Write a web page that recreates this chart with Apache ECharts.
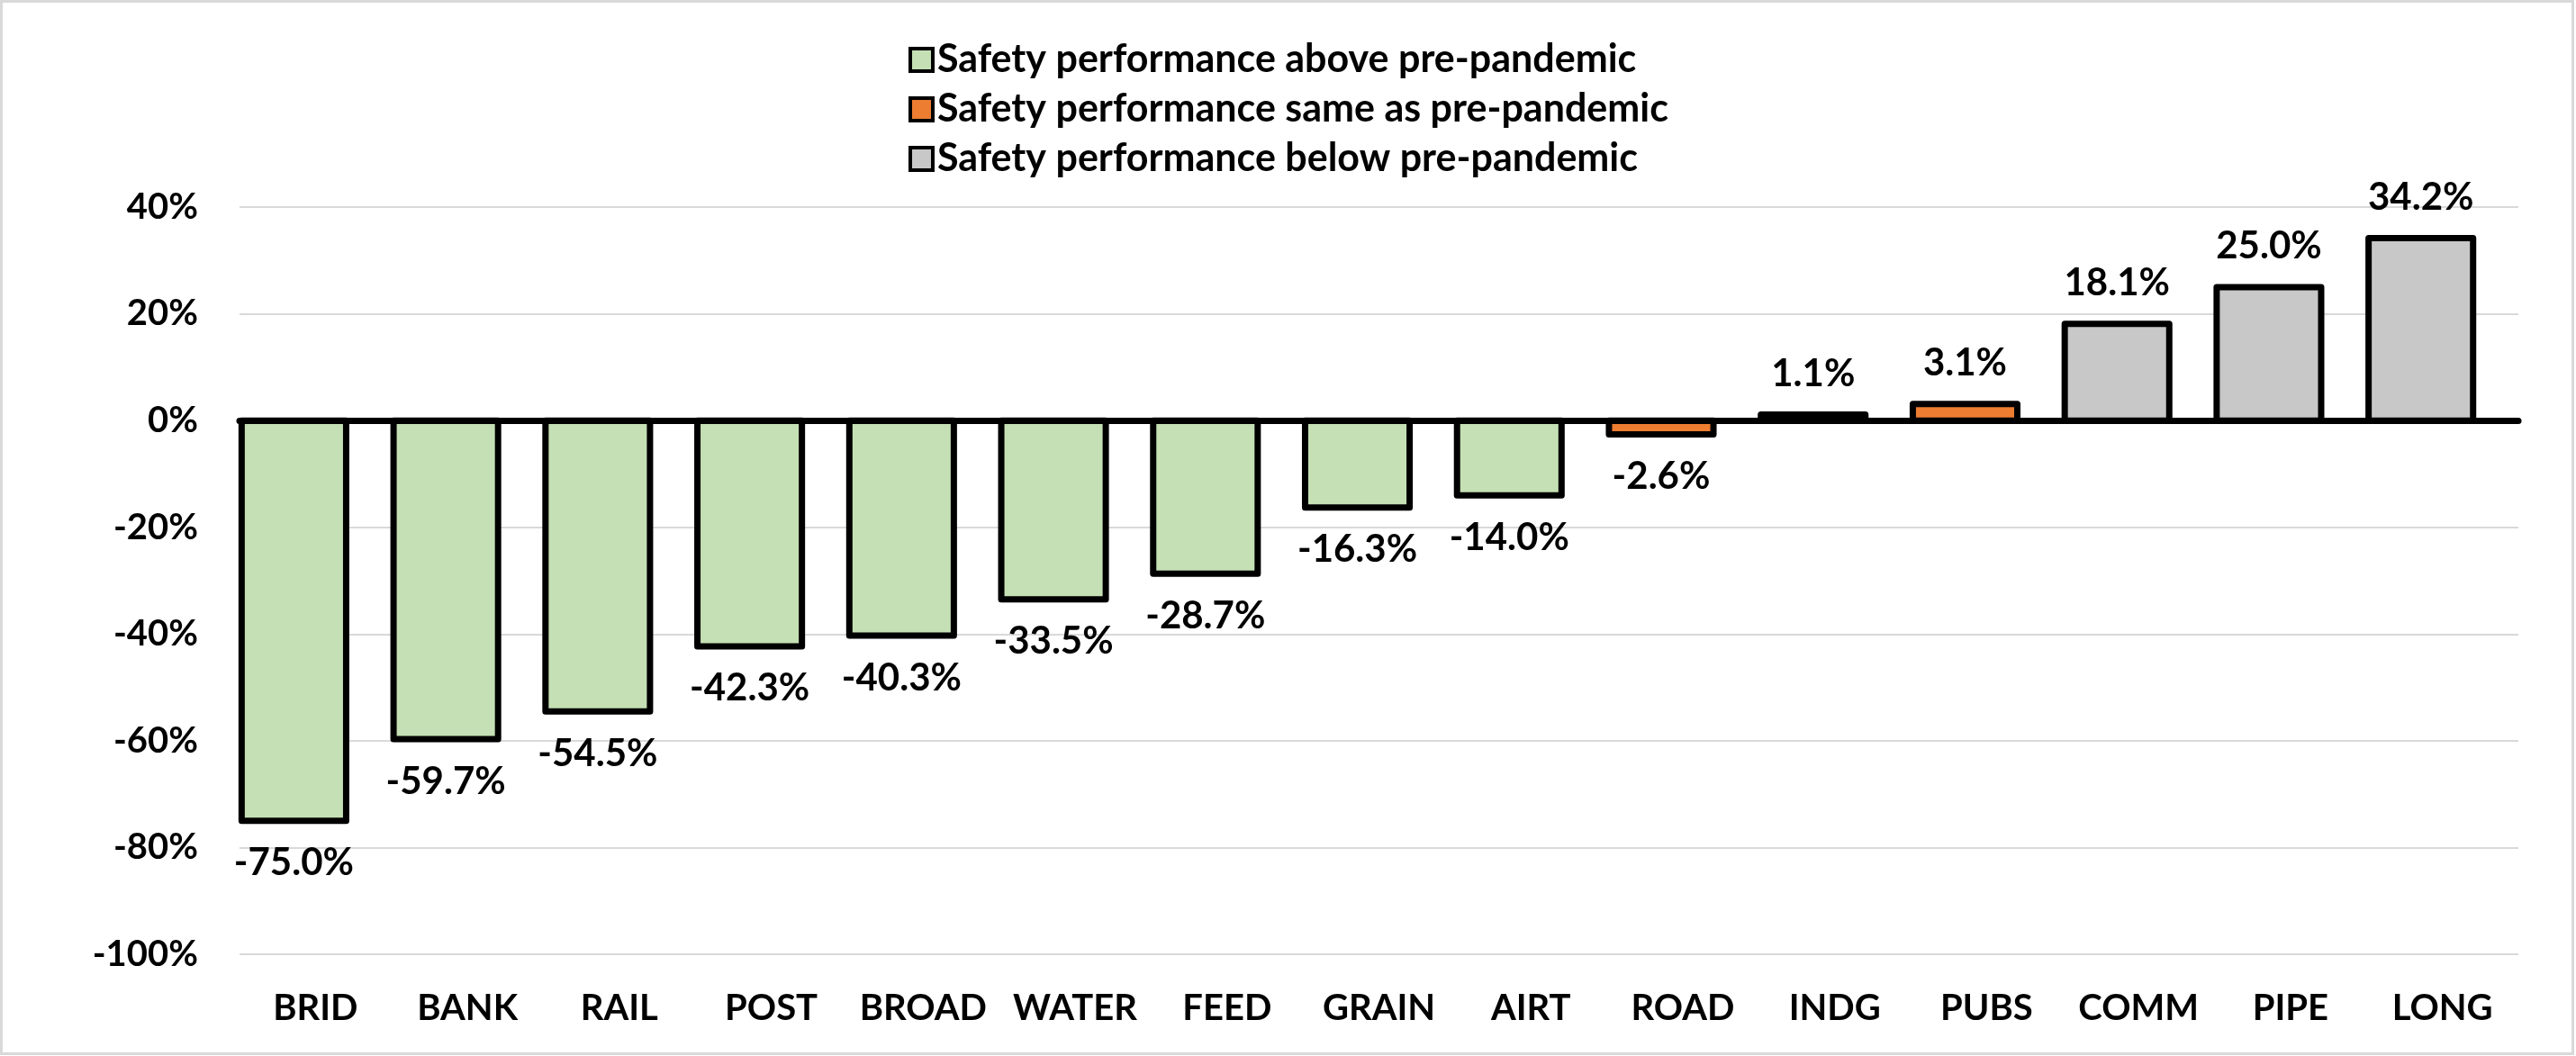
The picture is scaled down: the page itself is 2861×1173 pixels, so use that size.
<!DOCTYPE html>
<html>
<head>
<meta charset="utf-8">
<script src="https://cdn.jsdelivr.net/npm/echarts@6/dist/echarts.min.js"></script>
<style>
html,body{margin:0;padding:0;background:#fff;}
#c{width:2861px;height:1173px;}
</style>
</head>
<body>
<div id="c"></div>
<script>
const categories = ['BRID','BANK','RAIL','POST','BROAD','WATER','FEED','GRAIN','AIRT','ROAD','INDG','PUBS','COMM','PIPE','LONG'];
const values = [-75.0,-59.7,-54.5,-42.3,-40.3,-33.5,-28.7,-16.3,-14.0,-2.6,1.1,3.1,18.1,25.0,34.2];
const groups = ['above','above','above','above','above','above','above','above','above','same','same','same','below','below','below'];
const groupKeys = ['above','same','below'];
const seriesNames = ['Safety performance above pre-pandemic','Safety performance same as pre-pandemic','Safety performance below pre-pandemic'];
const seriesColors = ['#c5e0b4','#ed7d31','#c8c8c8'];
const yMin = -100, yMax = 40, yStep = 20;

const FONT = 'Lato';
const BAR_FRAC = 0.688;   // bar width as fraction of category band
const BAR_SHIFT = 0.142;  // bar shifted left of band centre (fraction of band)
const BORDER = 7;

const chart = echarts.init(document.getElementById('c'));

function makeRender(color) {
  return function (params, api) {
    const idx = api.value(0), v = api.value(1);
    const base = api.coord([idx, 0]);
    const end = api.coord([idx, v]);
    const band = api.size([1, 0])[0];
    const cx = base[0] - band * BAR_SHIFT;
    const w = band * BAR_FRAC;
    const top = Math.min(base[1], end[1]);
    const h = Math.abs(end[1] - base[1]);
    const neg = v < 0;
    return {
      type: 'group',
      children: [
        { type: 'rect', shape: { x: cx - w / 2, y: top, width: w, height: h },
          style: { fill: color, stroke: '#000', lineWidth: BORDER, lineJoin: 'round' } },
        { type: 'text', x: cx, y: neg ? end[1] + 26 : end[1] - 24,
          style: { text: v.toFixed(1) + '%', fill: '#000', fontFamily: FONT, fontWeight: 'bold', fontSize: 42,
                   align: 'center', verticalAlign: neg ? 'top' : 'bottom' } }
      ]
    };
  };
}

const series = groupKeys.map((g, k) => ({
  name: seriesNames[k],
  type: 'custom',
  xAxisIndex: 0, yAxisIndex: 0,
  itemStyle: { color: seriesColors[k], borderColor: '#000', borderWidth: BORDER },
  renderItem: makeRender(seriesColors[k]),
  encode: { x: 0, y: 1 },
  data: values.map((v, i) => [i, v]).filter((d, i) => groups[i] === g)
}));

chart.setOption({
  animation: false,
  backgroundColor: '#fff',
  graphic: [{
    type: 'rect', silent: true,
    shape: { x: 1.5, y: 1.5, width: 2856, height: 1169 },
    style: { fill: 'none', stroke: '#d9d9d9', lineWidth: 3 }
  }],
  legend: {
    data: seriesNames,
    orient: 'vertical',
    left: 1004, top: 40,
    itemWidth: 25, itemHeight: 25, itemGap: 12, itemTextGap: 10,
    icon: 'rect',
    itemStyle: { borderColor: '#000', borderWidth: 4 },
    textStyle: { fontFamily: FONT, fontWeight: 'bold', fontSize: 43, color: '#000', lineHeight: 42 }
  },
  grid: { left: 266, right: 64, top: 230, bottom: 113, containLabel: false },
  xAxis: [{
    type: 'category', data: categories,
    axisLine: { show: false, onZero: false },
    axisTick: { show: false },
    axisLabel: { fontFamily: FONT, fontWeight: 'bold', fontSize: 40, color: '#000', margin: 40, interval: 0 }
  }, {
    type: 'category', data: categories, position: 'bottom', z: 10,
    axisLine: { show: true, onZero: true, lineStyle: { color: '#000', width: 7 } },
    axisTick: { show: false },
    axisLabel: { show: false },
    splitLine: { show: false }
  }],
  yAxis: {
    type: 'value', min: yMin, max: yMax, interval: yStep,
    axisLine: { show: false }, axisTick: { show: false },
    splitLine: { lineStyle: { color: '#d9d9d9', width: 2 } },
    axisLabel: { fontFamily: FONT, fontWeight: 'bold', fontSize: 40, color: '#000', margin: 46,
      formatter: v => v + '%' }
  },
  series: series
});
</script>
</body>
</html>
